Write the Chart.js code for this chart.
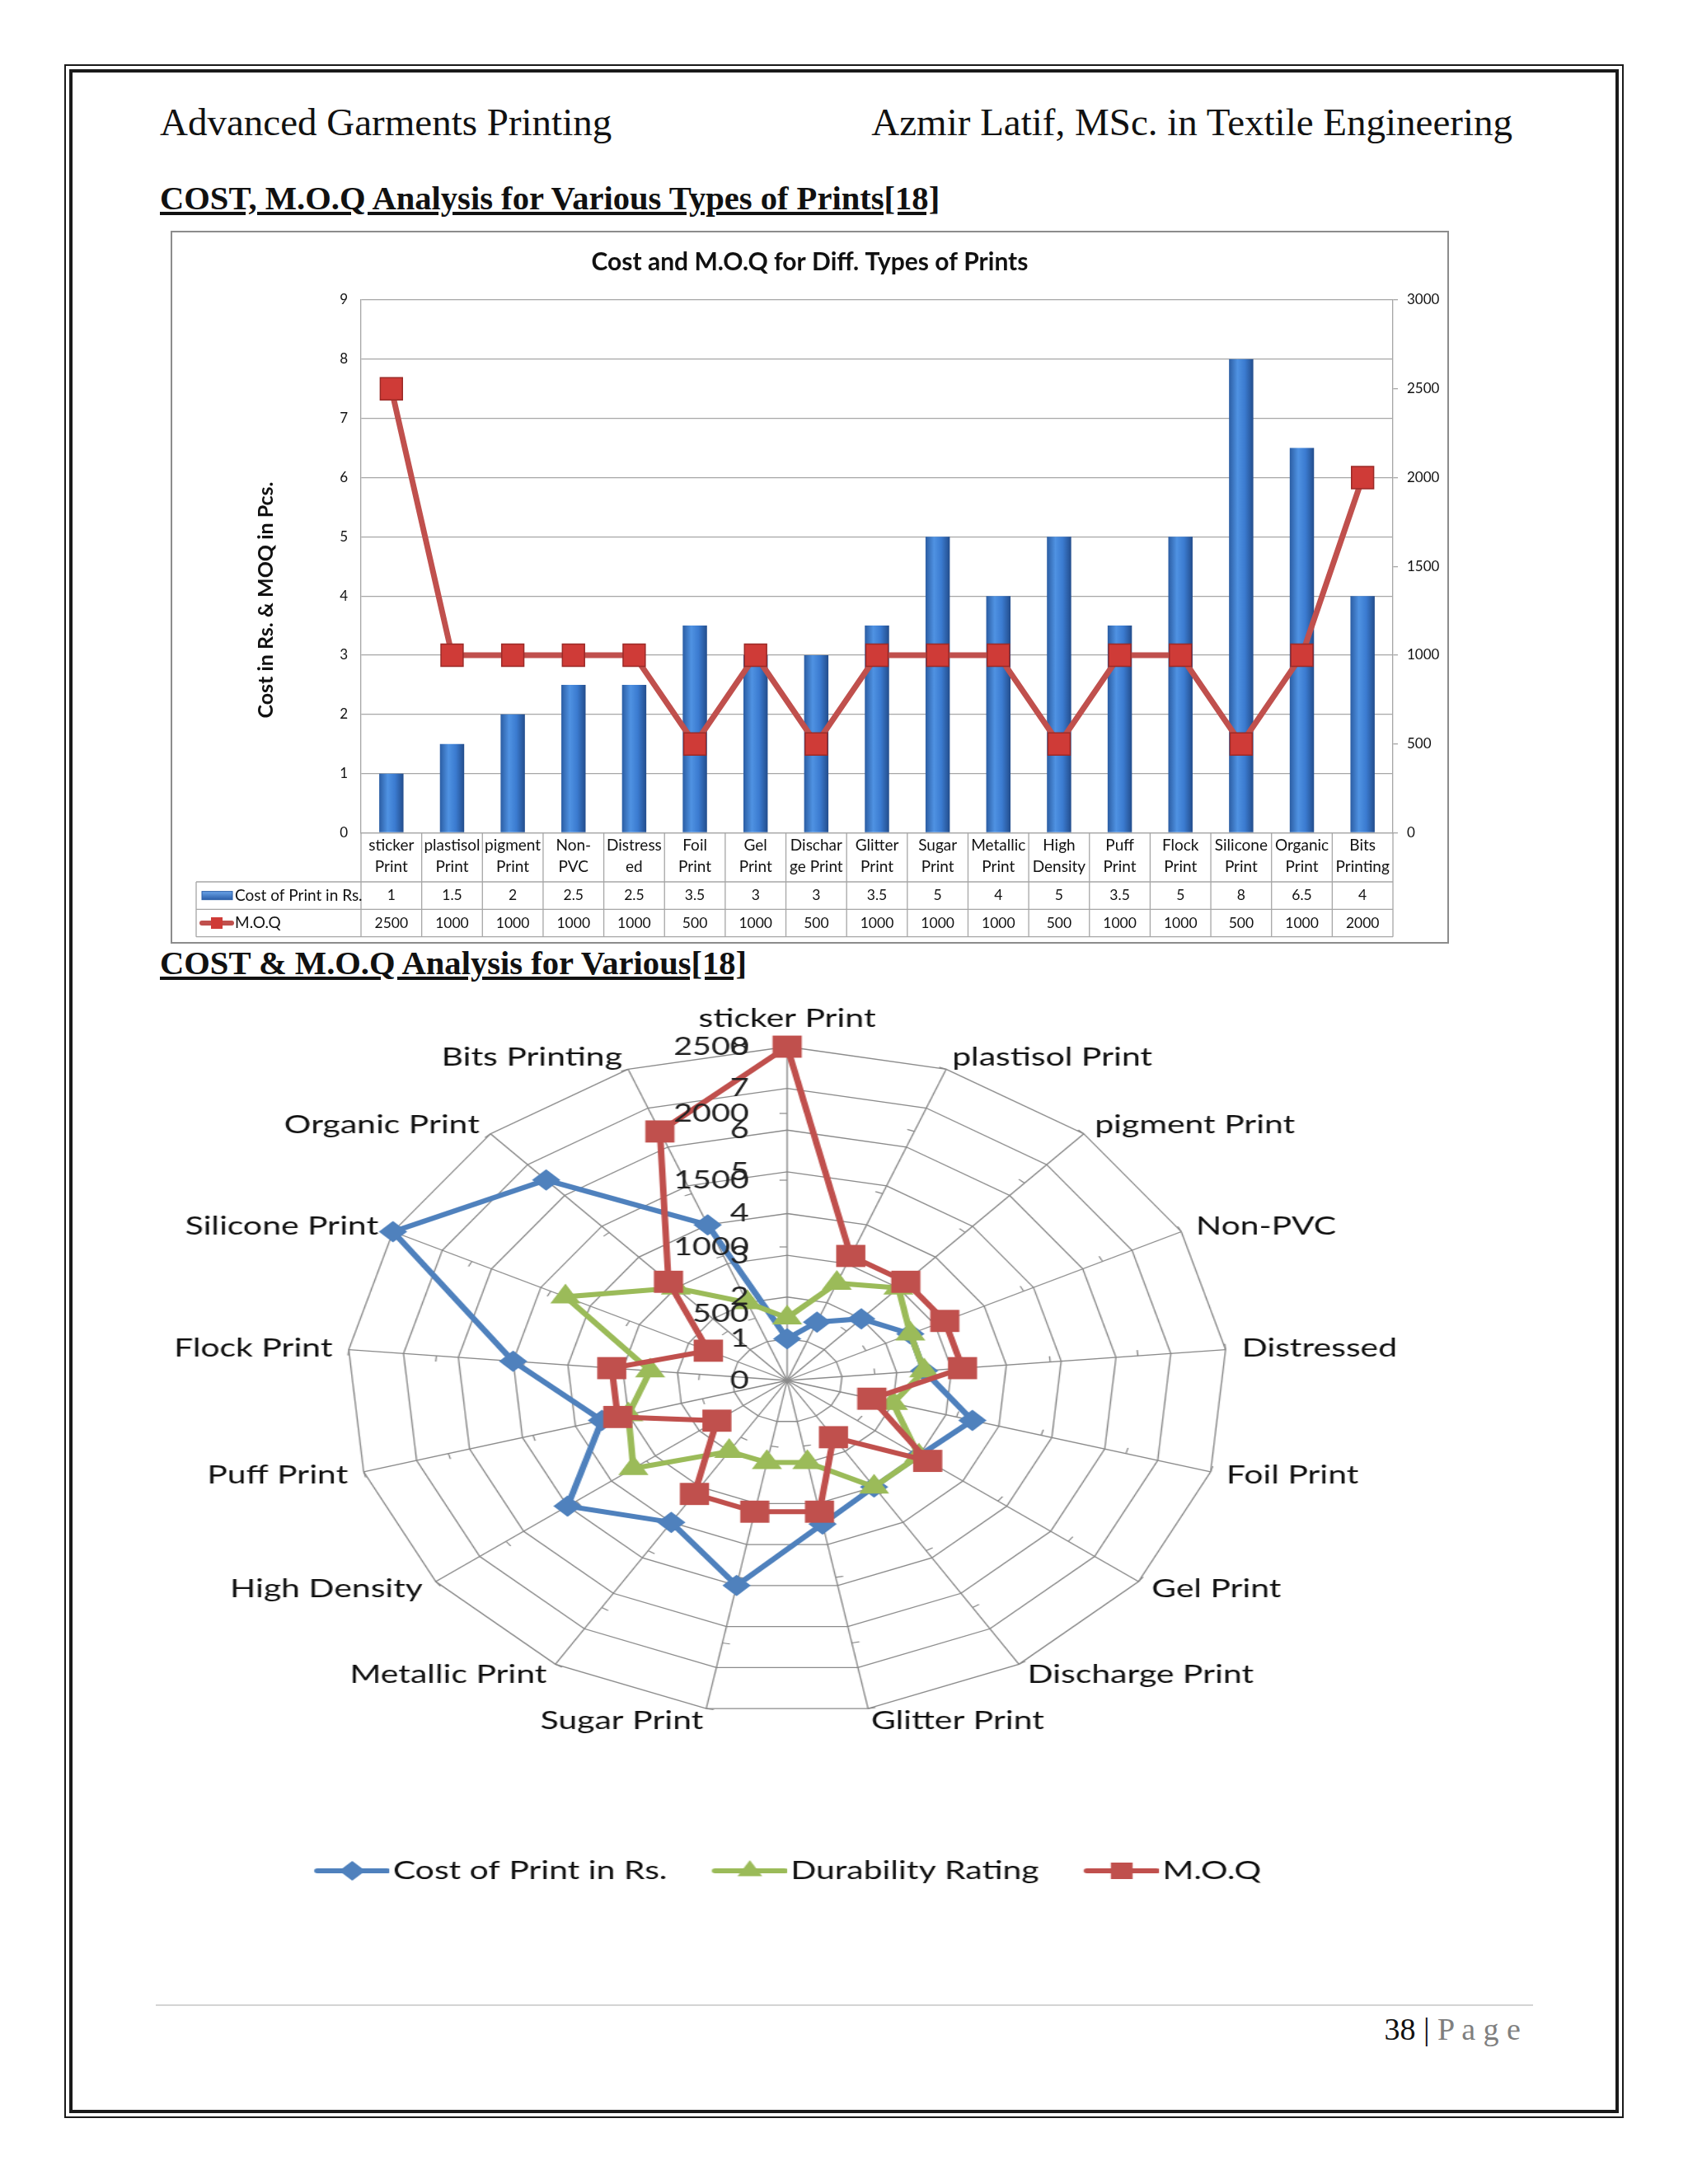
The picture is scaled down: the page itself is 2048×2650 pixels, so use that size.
<!DOCTYPE html>
<html>
<head>
<meta charset="utf-8">
<title>Cost and M.O.Q for Diff. Types of Prints</title>
<script src="https://cdn.jsdelivr.net/npm/chart.js@4.4.0/dist/chart.umd.min.js"></script>
<style>
  body { margin: 0; width: 2048px; height: 2650px; position: relative; background: #fff; overflow: hidden; }
  .abs { position: absolute; }
  .frame-outer { left: 78px; top: 78px; width: 1892px; height: 2492px; border: 2px solid #1a1a1a; box-sizing: border-box; }
  .frame-inner { left: 84px; top: 84px; width: 1880px; height: 2480px; border: 4px solid #1a1a1a; box-sizing: border-box; }
  .serif { font-family: "Liberation Serif", "Times New Roman", serif; color: #111; line-height: 1; white-space: nowrap; }
  .hdr { font-size: 47px; top: 125px; }
  .heading { font-size: 40.6px; font-weight: bold; text-decoration: underline; left: 194px; }
  .chart-box { left: 207px; top: 280px; width: 1551px; height: 865px; border: 2px solid #8c8c8c; box-sizing: border-box; }
  #barChart { left: 209px; top: 282px; }
  .radar-wrap { left: 375px; top: 1180px; width: 1160px; height: 1130px; transform: scaleX(1.319); transform-origin: 580px 0; }
  .footer-line { left: 189px; top: 2432px; width: 1671px; border-top: 2px solid #d4d4d4; }
  .page-no { font-size: 38px; right: 203px; top: 2443px; }
  .page-no span { color: #7f7f7f; }
</style>
</head>
<body>
<div class="abs frame-outer"></div>
<div class="abs frame-inner"></div>

<div class="abs serif hdr" style="left:194px;">Advanced Garments Printing</div>
<div class="abs serif hdr" style="right:213px;">Azmir Latif, MSc. in Textile Engineering</div>

<div class="abs serif heading" style="top:221px;">COST, M.O.Q Analysis for Various Types of Prints[18]</div>

<div class="abs chart-box"></div>
<canvas id="barChart" class="abs" width="1547" height="861"></canvas>

<div class="abs serif heading" style="top:1149px;">COST &amp; M.O.Q Analysis for Various[18]</div>

<div class="abs radar-wrap"><canvas id="radarChart" width="1160" height="1130"></canvas></div>

<div class="abs footer-line"></div>
<div class="abs serif page-no">38 | <span>P a g e</span></div>

<script>
// Print types (radar labels) and their wrapped form used in the data table
const printTypes = ['sticker Print', 'plastisol Print', 'pigment Print', 'Non-PVC', 'Distressed', 'Foil Print',
  'Gel Print', 'Discharge Print', 'Glitter Print', 'Sugar Print', 'Metallic Print', 'High Density',
  'Puff Print', 'Flock Print', 'Silicone Print', 'Organic Print', 'Bits Printing'];
const tableLabels = [['sticker', 'Print'], ['plastisol', 'Print'], ['pigment', 'Print'], ['Non-', 'PVC'],
  ['Distress', 'ed'], ['Foil', 'Print'], ['Gel', 'Print'], ['Dischar', 'ge Print'], ['Glitter', 'Print'],
  ['Sugar', 'Print'], ['Metallic', 'Print'], ['High', 'Density'], ['Puff', 'Print'], ['Flock', 'Print'],
  ['Silicone', 'Print'], ['Organic', 'Print'], ['Bits', 'Printing']];

// Series
const costValues = [1, 1.5, 2, 2.5, 2.5, 3.5, 3, 3, 3.5, 5, 4, 5, 3.5, 5, 8, 6.5, 4];
const moqValues = [2500, 1000, 1000, 1000, 1000, 500, 1000, 500, 1000, 1000, 1000, 500, 1000, 1000, 500, 1000, 2000];
const durabilityValues = [1.5, 2.5, 3, 2.5, 2.5, 2, 3, 3, 2, 2, 2, 3.5, 3, 2.5, 4.5, 3, 2];

// Axis ranges
const costAxis = { min: 0, max: 9, step: 1 };
const moqAxis = { min: 0, max: 3000, step: 500 };
const radarCostAxis = { min: 0, max: 8, step: 1 };
const radarMoqAxis = { min: 0, max: 2500, step: 500 };

const BLUE = '#4f81bd';
const GREEN = '#9bbb59';
const RED = '#c0504d';
const GRID = '#a6a6a6';
const plainNumber = v => String(v);

document.addEventListener('DOMContentLoaded', () => {

    // ---------- Bar + line chart with data table ----------
    const yTitlePlugin = {
        id: 'yTitle',
        afterDraw(chart) {
            const ctx = chart.ctx;
            ctx.save();
            ctx.translate(114, 446);
            ctx.rotate(-Math.PI / 2);
            ctx.font = 'bold 25px Lato';
            ctx.fillStyle = '#111';
            ctx.textAlign = 'center';
            ctx.textBaseline = 'middle';
            ctx.fillText('Cost in Rs. & MOQ in Pcs.', 0, 0);
            ctx.restore();
        }
    };

    const tablePlugin = {
        id: 'dataTable',
        afterDraw(chart) {
            const { ctx, chartArea } = chart;
            const x = chart.scales.x;
            const n = tableLabels.length;
            const w = (x.right - x.left) / n;
            const top = chartArea.bottom;
            const rows = [top + 59.5, top + 92.8, top + 126.2];
            const left = 29;

            ctx.save();
            ctx.strokeStyle = GRID;
            ctx.lineWidth = 1.3;
            const seg = (x1, y1, x2, y2) => { ctx.beginPath(); ctx.moveTo(x1, y1); ctx.lineTo(x2, y2); ctx.stroke(); };
            rows.forEach(y => seg(left, y, x.right, y));
            for (let k = 0; k <= n; k++) {
                const xx = x.left + k * w;
                seg(xx, top, xx, rows[2]);
            }
            seg(left, rows[0], left, rows[2]);

            ctx.fillStyle = '#111';
            ctx.textBaseline = 'middle';
            ctx.textAlign = 'center';
            ctx.font = '17.5px Lato';
            const yCost = (rows[0] + rows[1]) / 2;
            const yMoq = (rows[1] + rows[2]) / 2;
            costValues.forEach((v, i) => ctx.fillText(String(v), x.getPixelForValue(i), yCost));
            moqValues.forEach((v, i) => ctx.fillText(String(v), x.getPixelForValue(i), yMoq));

            // row headers with legend keys
            const g = ctx.createLinearGradient(0, yCost - 5, 0, yCost + 5);
            g.addColorStop(0, '#6aa3e8');
            g.addColorStop(1, '#2a5ea8');
            ctx.fillStyle = g;
            ctx.fillRect(left + 7, yCost - 5, 37, 10);
            ctx.strokeStyle = '#2a5ea8';
            ctx.lineWidth = 1;
            ctx.strokeRect(left + 7, yCost - 5, 37, 10);

            ctx.strokeStyle = RED;
            ctx.lineWidth = 6;
            ctx.lineCap = 'round';
            seg(left + 7, yMoq, left + 43, yMoq);
            ctx.fillStyle = '#cf3b37';
            ctx.fillRect(left + 18, yMoq - 7, 14, 14);

            ctx.fillStyle = '#111';
            ctx.textAlign = 'left';
            ctx.font = '19px Lato';
            ctx.fillText('Cost of Print in Rs.', left + 47, yCost);
            ctx.fillText('M.O.Q', left + 47, yMoq);
            ctx.restore();
        }
    };

    const barGradient = (c) => {
        const chart = c.chart;
        const xs = chart.scales.x;
        if (!xs || c.dataIndex === undefined) return '#3a78cc';
        const cx = xs.getPixelForValue(c.dataIndex);
        const half = (xs.width / tableLabels.length) * 0.4 / 2;
        if (!isFinite(cx) || !isFinite(half) || half <= 0) return '#3a78cc';
        const g = chart.ctx.createLinearGradient(cx - half, 0, cx + half, 0);
        g.addColorStop(0, '#2b5da3');
        g.addColorStop(0.35, '#4f92e2');
        g.addColorStop(0.65, '#3b7bd0');
        g.addColorStop(1, '#234d8c');
        return g;
    };

    new Chart(document.getElementById('barChart'), {
        data: {
            labels: tableLabels,
            datasets: [
                {
                    type: 'bar',
                    label: 'Cost of Print in Rs.',
                    data: costValues,
                    yAxisID: 'y',
                    backgroundColor: barGradient,
                    borderWidth: 0,
                    categoryPercentage: 1,
                    barPercentage: 0.4,
                    order: 1
                },
                {
                    type: 'line',
                    label: 'M.O.Q',
                    data: moqValues,
                    yAxisID: 'y1',
                    borderColor: RED,
                    borderWidth: 7,
                    tension: 0,
                    pointStyle: 'rect',
                    pointRadius: 19,
                    pointBackgroundColor: '#cf3b37',
                    pointBorderColor: '#9b2a27',
                    pointBorderWidth: 1.5,
                    order: -1
                }
            ]
        },
        options: {
            responsive: false,
            animation: false,
            devicePixelRatio: 1,
            layout: { padding: 0 },
            plugins: {
                legend: { display: false },
                tooltip: { enabled: false },
                title: {
                    display: true,
                    text: 'Cost and M.O.Q for Diff. Types of Prints',
                    color: '#111',
                    font: { family: 'Lato', size: 30, weight: 'bold' },
                    padding: { top: 18, bottom: 28 }
                }
            },
            scales: {
                x: {
                    grid: { display: false, drawTicks: false },
                    border: { display: true, color: GRID, width: 1.3 },
                    ticks: { color: '#111', font: { family: 'Lato', size: 19, lineHeight: 1.35 }, padding: 3, maxRotation: 0, autoSkip: false },
                    afterFit: s => { s.height = 132.5; }
                },
                y: {
                    min: costAxis.min, max: costAxis.max,
                    ticks: { stepSize: costAxis.step, padding: 16, color: '#111', font: { family: 'Lato', size: 17 }, callback: plainNumber },
                    grid: { color: GRID, lineWidth: 1.3, drawTicks: false },
                    border: { color: GRID, width: 1.3 },
                    afterFit: s => { s.width = 229; }
                },
                y1: {
                    position: 'right',
                    min: moqAxis.min, max: moqAxis.max,
                    ticks: { stepSize: moqAxis.step, padding: 11, color: '#111', font: { family: 'Lato', size: 17 }, callback: plainNumber },
                    grid: { drawOnChartArea: false, drawTicks: true, tickLength: 6, color: GRID, lineWidth: 1.3 },
                    border: { color: GRID, width: 1.3 },
                    afterFit: s => { s.width = 66; }
                }
            }
        },
        plugins: [yTitlePlugin, tablePlugin]
    });

    // ---------- Radar chart ----------
    // legend icon: line with the series marker, offset so the line runs up to the text
    const makeIcon = (color, style, r) => {
        const cv = document.createElement('canvas');
        cv.width = 82; cv.height = 40;
        const c = cv.getContext('2d');
        const x0 = 16, x1 = 80, mid = (x0 + x1) / 2;
        c.strokeStyle = color; c.lineWidth = 6; c.lineCap = 'round';
        c.beginPath(); c.moveTo(x0, 20); c.lineTo(x1, 20); c.stroke();
        c.fillStyle = color;
        c.beginPath();
        if (style === 'diamond') { c.moveTo(mid, 20 - r); c.lineTo(mid + r, 20); c.lineTo(mid, 20 + r); c.lineTo(mid - r, 20); }
        else if (style === 'triangle') { c.moveTo(mid, 20 - r); c.lineTo(mid + r * 0.87, 20 + r / 2); c.lineTo(mid - r * 0.87, 20 + r / 2); }
        else { c.rect(mid - r, 20 - r, 2 * r, 2 * r); }
        c.closePath(); c.fill();
        return cv;
    };
    const legendIcons = [makeIcon(BLUE, 'diamond', 12), makeIcon(GREEN, 'triangle', 13), makeIcon(RED, 'square', 10)];

    const radarText = {
        id: 'radarText',
        beforeDatasetsDraw(chart) {
            const { ctx } = chart;
            const r2 = chart.scales.r2;
            ctx.save();
            ctx.strokeStyle = '#8a8a8a';
            ctx.lineWidth = 1.2;
            r2.ticks.forEach(t => {
                if (t.value <= 0) return;
                const d = r2.getDistanceFromCenterForValue(t.value);
                printTypes.forEach((_, i) => {
                    const p = r2.getPointPosition(i, d);
                    const a = p.angle - Math.PI / 2;
                    ctx.beginPath();
                    ctx.moveTo(p.x, p.y);
                    ctx.lineTo(p.x + Math.cos(a) * 7, p.y + Math.sin(a) * 7);
                    ctx.stroke();
                });
            });
            ctx.restore();
        },
        afterDatasetsDraw(chart) {
            const { ctx } = chart;
            const r = chart.scales.r;
            const r2 = chart.scales.r2;
            ctx.save();
            ctx.fillStyle = '#111';
            ctx.font = '31px Lato';
            printTypes.forEach((name, i) => {
                const p = r.getPointPosition(i, r.drawingArea + 15);
                const deg = ((p.angle * 180 / Math.PI + 90) % 360 + 360) % 360;
                const isTop = deg < 0.5 || deg > 359.5;
                if (isTop) { ctx.textAlign = 'center'; ctx.textBaseline = 'bottom'; }
                else { ctx.textAlign = deg < 180 ? 'left' : 'right'; ctx.textBaseline = 'middle'; }
                ctx.fillText(name, p.x, isTop ? p.y - 4 : p.y);
            });
            ctx.font = '30px Lato';
            ctx.fillStyle = '#222';
            ctx.textAlign = 'right';
            ctx.textBaseline = 'middle';
            r.ticks.forEach(t => ctx.fillText(String(t.value), r.xCenter - 35, r.yCenter - r.getDistanceFromCenterForValue(t.value)));
            r2.ticks.forEach(t => {
                if (t.value <= 0) return;
                ctx.fillText(String(t.value), r2.xCenter - 35, r2.yCenter - r2.getDistanceFromCenterForValue(t.value));
            });
            ctx.restore();
        }
    };

    new Chart(document.getElementById('radarChart'), {
        type: 'radar',
        data: {
            labels: printTypes,
            datasets: [
                {
                    label: 'Cost of Print in Rs.',
                    data: costValues,
                    borderColor: BLUE, backgroundColor: BLUE,
                    borderWidth: 6, fill: false, tension: 0,
                    pointStyle: 'rectRot', pointRadius: 13, pointBorderWidth: 0, pointBackgroundColor: BLUE,
                    order: 3
                },
                {
                    label: 'Durability Rating',
                    data: durabilityValues,
                    borderColor: GREEN, backgroundColor: GREEN,
                    borderWidth: 6, fill: false, tension: 0,
                    pointStyle: 'triangle', pointRadius: 16, pointBorderWidth: 0, pointBackgroundColor: GREEN,
                    order: 2
                },
                {
                    label: 'M.O.Q',
                    data: moqValues,
                    rAxisID: 'r2',
                    borderColor: RED, backgroundColor: RED,
                    borderWidth: 6, fill: false, tension: 0,
                    pointStyle: 'rect', pointRadius: 19, pointBorderWidth: 0, pointBackgroundColor: RED,
                    order: 1
                }
            ]
        },
        options: {
            responsive: false,
            animation: false,
            devicePixelRatio: 1,
            layout: { padding: { left: 0, right: 0, top: 90, bottom: 14.5 } },
            plugins: {
                tooltip: { enabled: false },
                legend: {
                    position: 'bottom',
                    title: { display: true, text: '', font: { size: 10 }, padding: { top: 0, bottom: 121.5 } },
                    labels: {
                        color: '#111',
                        font: { family: 'Lato', size: 31 },
                        usePointStyle: true,
                        pointStyleWidth: 58,
                        padding: 40,
                        generateLabels: (chart) => chart.data.datasets.map((ds, i) => ({
                            text: ds.label,
                            pointStyle: legendIcons[i],
                            datasetIndex: i,
                            hidden: false,
                            fontColor: '#111',
                            lineWidth: 0,
                            strokeStyle: 'transparent',
                            fillStyle: 'transparent'
                        }))
                    }
                }
            },
            scales: {
                r: {
                    min: radarCostAxis.min, max: radarCostAxis.max,
                    ticks: { display: false, stepSize: radarCostAxis.step },
                    grid: { color: '#8a8a8a', lineWidth: 1.3 },
                    angleLines: { color: '#8a8a8a', lineWidth: 1.3 },
                    pointLabels: { display: false }
                },
                r2: {
                    type: 'radialLinear',
                    axis: 'r',
                    min: radarMoqAxis.min, max: radarMoqAxis.max,
                    ticks: { display: false, stepSize: radarMoqAxis.step },
                    grid: { display: false },
                    angleLines: { display: false },
                    pointLabels: { display: false }
                }
            }
        },
        plugins: [radarText]
    });
});
</script>
</body>
</html>
